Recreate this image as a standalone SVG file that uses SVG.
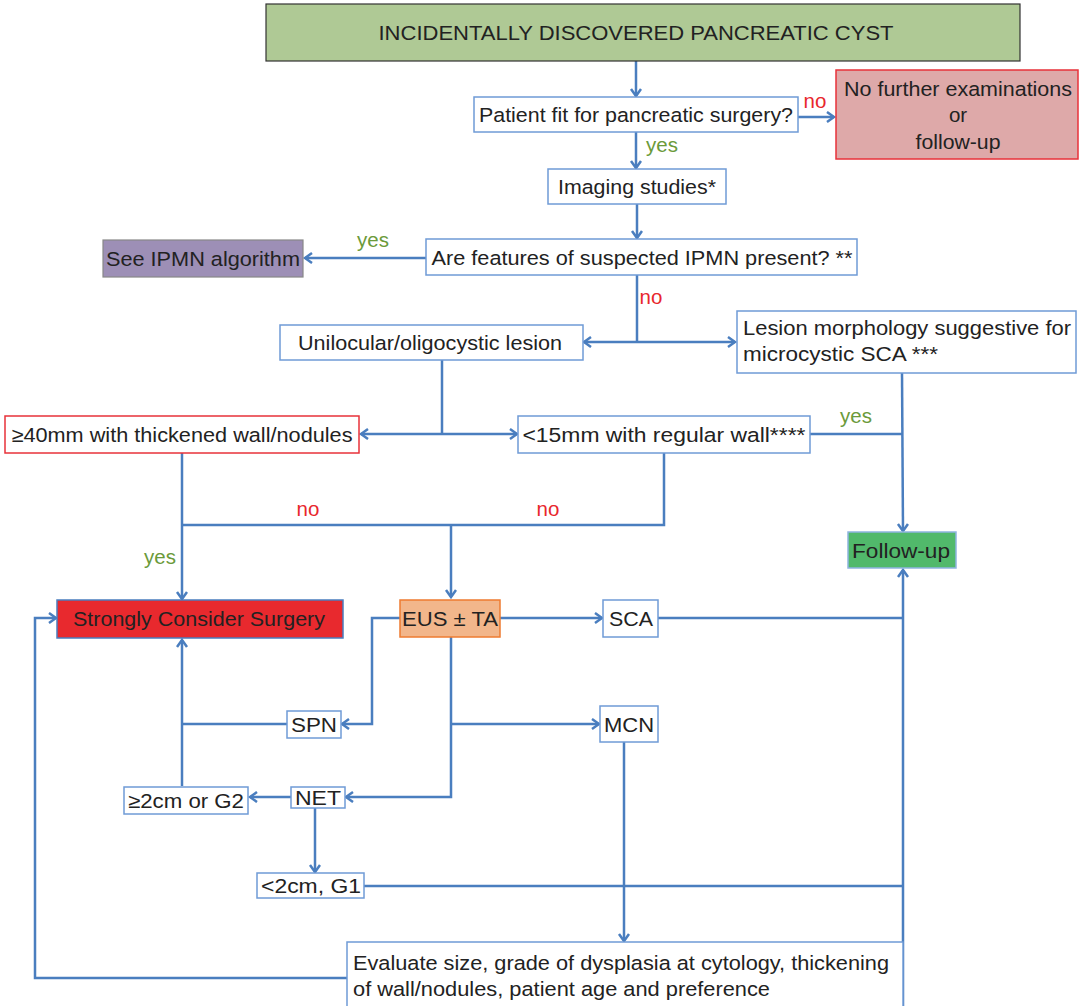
<svg xmlns="http://www.w3.org/2000/svg" width="1084" height="1006" viewBox="0 0 1084 1006">
<defs>
<marker id="ah" markerUnits="userSpaceOnUse" markerWidth="14" markerHeight="14" refX="9" refY="6" orient="auto">
<path d="M2,1 L9,6 L2,11" fill="none" stroke="#4a7ebf" stroke-width="2.5"/>
</marker>
<style>
.c{fill:none;stroke:#4a7ebf;stroke-width:2.5}
.a{marker-end:url(#ah)}
.b{fill:#fff;stroke:#6f9bd6;stroke-width:1.5}
text{font-family:"Liberation Sans",Arial,sans-serif;font-size:20.5px;fill:#222}
.m{text-anchor:middle}
.no{fill:#e8262d}
.yes{fill:#6b9a3a}
</style>
</defs>
<rect width="1084" height="1006" fill="#fff"/>
<g id="connectors">
<path class="c a" d="M636,61 V96"/>
<path class="c a" d="M798,117 H834"/>
<path class="c a" d="M636,132 V168"/>
<path class="c a" d="M637,204 V238"/>
<path class="c a" d="M426,258 H305"/>
<path class="c" d="M637,275 V342"/>
<path class="c a" d="M637,342 H584"/>
<path class="c a" d="M637,342 H735"/>
<path class="c" d="M442,360 V434"/>
<path class="c a" d="M442,434 H361"/>
<path class="c a" d="M442,434 H517"/>
<path class="c" d="M810,434 H903"/>
<path class="c a" d="M902,373 L903,531"/>
<path class="c a" d="M182,453 V599"/>
<path class="c" d="M664,453 V525 H182"/>
<path class="c a" d="M451,525 V597"/>
<path class="c a" d="M500,618 H602"/>
<path class="c" d="M658,618 H903"/>
<path class="c a" d="M903,1006 V570"/>
<path class="c a" d="M400,618 H372 V724 H342"/>
<path class="c" d="M287,724 H182"/>
<path class="c a" d="M182,786 V640"/>
<path class="c a" d="M451,637 V797 H346"/>
<path class="c a" d="M451,724 H599"/>
<path class="c a" d="M291,797 H250"/>
<path class="c a" d="M315,808 V872"/>
<path class="c" d="M364,886 H903"/>
<path class="c a" d="M624,742 V941"/>
<path class="c a" d="M347,978 H35 V618 H56"/>
</g>
<g id="n-title"><rect x="266" y="4" width="754" height="57" fill="#afc995" stroke="#333" stroke-width="1.2"/><text class="m" x="636" y="40" font-size="21" textLength="515" lengthAdjust="spacingAndGlyphs">INCIDENTALLY DISCOVERED PANCREATIC CYST</text></g>
<g id="n-fit"><rect class="b" x="474" y="97" width="324" height="35"/><text class="m" x="636" y="122" textLength="314" lengthAdjust="spacingAndGlyphs">Patient fit for pancreatic surgery?</text></g>
<g id="n-nofurther"><rect x="836" y="70" width="242" height="89" fill="#dea9a9" stroke="#e8323a" stroke-width="1.5"/><text class="m" x="958" y="96" textLength="228" lengthAdjust="spacingAndGlyphs">No further examinations</text><text class="m" x="958" y="122">or</text><text class="m" x="958" y="149" textLength="85" lengthAdjust="spacingAndGlyphs">follow-up</text></g>
<g id="n-imaging"><rect class="b" x="548" y="169" width="178" height="35"/><text class="m" x="637" y="194" textLength="158" lengthAdjust="spacingAndGlyphs">Imaging studies*</text></g>
<g id="n-ipmnq"><rect class="b" x="426" y="239" width="431" height="36"/><text class="m" x="642" y="265" textLength="421" lengthAdjust="spacingAndGlyphs">Are features of suspected IPMN present? **</text></g>
<g id="n-seeipmn"><rect x="103" y="240" width="200" height="37" fill="#9d8fb6" stroke="#888" stroke-width="1.2"/><text class="m" x="203" y="266" textLength="194" lengthAdjust="spacingAndGlyphs">See IPMN algorithm</text></g>
<g id="n-unilocular"><rect class="b" x="280" y="325" width="303" height="35"/><text class="m" x="430" y="350" textLength="264" lengthAdjust="spacingAndGlyphs">Unilocular/oligocystic lesion</text></g>
<g id="n-lesion"><rect class="b" x="737" y="311" width="339" height="62"/><text x="743" y="335" textLength="328" lengthAdjust="spacingAndGlyphs">Lesion morphology suggestive for</text><text x="743" y="361" textLength="195" lengthAdjust="spacingAndGlyphs">microcystic SCA ***</text></g>
<g id="n-ge40"><rect x="5" y="416" width="354" height="37" fill="#fff" stroke="#e8323a" stroke-width="1.5"/><text class="m" x="182" y="442" textLength="341" lengthAdjust="spacingAndGlyphs">≥40mm with thickened wall/nodules</text></g>
<g id="n-lt15"><rect class="b" x="518" y="416" width="292" height="37"/><text class="m" x="664" y="442" textLength="283" lengthAdjust="spacingAndGlyphs">&lt;15mm with regular wall****</text></g>
<g id="n-followup"><rect x="848" y="532" width="108" height="36" fill="#51b96b" stroke="#8fb4e0" stroke-width="1.5"/><text class="m" x="901" y="558" textLength="98" lengthAdjust="spacingAndGlyphs">Follow-up</text></g>
<g id="n-surgery"><rect x="57" y="600" width="286" height="38" fill="#e8292e" stroke="#4a7ebf" stroke-width="1.5"/><text class="m" x="199" y="626" textLength="252" lengthAdjust="spacingAndGlyphs">Strongly Consider Surgery</text></g>
<g id="n-eus"><rect x="400" y="600" width="100" height="37" fill="#f2b68b" stroke="#ee7b30" stroke-width="1.5"/><text class="m" x="450" y="626" textLength="96" lengthAdjust="spacingAndGlyphs">EUS ± TA</text></g>
<g id="n-sca"><rect class="b" x="603" y="600" width="55" height="37"/><text class="m" x="631" y="626" textLength="44" lengthAdjust="spacingAndGlyphs">SCA</text></g>
<g id="n-spn"><rect class="b" x="287" y="711" width="54" height="27"/><text class="m" x="314" y="732" textLength="46" lengthAdjust="spacingAndGlyphs">SPN</text></g>
<g id="n-mcn"><rect class="b" x="600" y="706" width="58" height="36"/><text class="m" x="629" y="732" textLength="50" lengthAdjust="spacingAndGlyphs">MCN</text></g>
<g id="n-net"><rect class="b" x="291" y="787" width="54" height="21"/><text class="m" x="318" y="805" textLength="46" lengthAdjust="spacingAndGlyphs">NET</text></g>
<g id="n-ge2"><rect class="b" x="124" y="787" width="124" height="27"/><text class="m" x="186" y="808" textLength="116" lengthAdjust="spacingAndGlyphs">≥2cm or G2</text></g>
<g id="n-lt2"><rect class="b" x="257" y="873" width="107" height="25"/><text class="m" x="311" y="893" textLength="100" lengthAdjust="spacingAndGlyphs">&lt;2cm, G1</text></g>
<g id="n-evaluate"><rect class="b" x="347" y="942" width="556" height="70"/><text x="353" y="970" textLength="536" lengthAdjust="spacingAndGlyphs">Evaluate size, grade of dysplasia at cytology, thickening</text><text x="353" y="996" textLength="417" lengthAdjust="spacingAndGlyphs">of wall/nodules, patient age and preference</text></g>
<g id="labels">
<text class="m no" x="815" y="108">no</text>
<text class="m yes" x="662" y="152">yes</text>
<text class="m yes" x="373" y="247">yes</text>
<text class="m no" x="651" y="304">no</text>
<text class="m yes" x="856" y="423">yes</text>
<text class="m no" x="308" y="516">no</text>
<text class="m no" x="548" y="516">no</text>
<text class="m yes" x="160" y="564">yes</text>
</g>
</svg>
